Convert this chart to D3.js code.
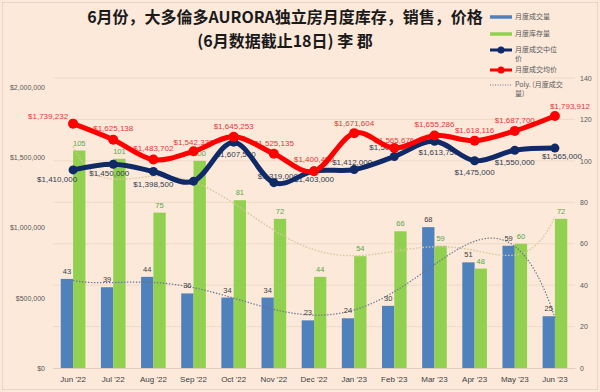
<!DOCTYPE html>
<html><head><meta charset="utf-8">
<script src="https://cdnjs.cloudflare.com/ajax/libs/d3/7.8.5/d3.min.js"></script>
<style>
html,body{margin:0;padding:0;background:#fce9da;}
svg{display:block;}
</style></head>
<body>
<svg id="chart" width="600" height="392"></svg>
<script>
// ---------- data ----------
const categories = ["Jun '22","Jul '22","Aug '22","Sep '22","Oct '22","Nov '22","Dec '22","Jan '23","Feb '23","Mar '23","Apr '23","May '23","Jun '23"];
const salesVolume = [43,39,44,36,34,34,23,24,30,68,51,59,25];          // 月度成交量
const inventory   = [105,101,75,100,81,72,44,54,66,59,48,60,72];       // 月度库存量
const medianPrice = [1410000,1450000,1398500,1330000,1607500,1319000,1403000,1412000,1505000,1613750,1475000,1550000,1565000]; // 月度成交中位价
const medianShowLabel = [true,true,true,false,true,true,true,true,true,true,true,true,true];
const avgPrice    = [1739232,1625138,1483702,1542333,1645253,1525135,1400450,1671604,1565676,1655286,1618116,1687700,1793912]; // 月度成交均价
const leftTicks  = [0,500000,1000000,1500000,2000000];
const rightTicks = [0,20,40,60,80,100,120,140];
const titleLines = ["6月份，大多倫多AURORA独立房月度库存，销售，价格","(6月数据截止18日) 李 郡"];
const legendItems = [
  {lines:["月度成交量"], kind:"bar", color:"#4f81bd"},
  {lines:["月度库存量"], kind:"bar", color:"#92d050"},
  {lines:["月度成交中位","价"], kind:"marker", color:"#0f2a66"},
  {lines:["月度成交均价"], kind:"marker", color:"#ff0000"},
  {lines:["Poly. (月度成交","量)"], kind:"dot", color:"#6b7793"}
];
// label placement offsets (dx, dy from marker)
const avgLabelOffset = [[-25,-7],[0,-11],[0,-11],[0,-9],[0,-11],[0,-11],[0,-12],[0,-10],[0,-8],[0,-11],[0,-10],[0,-11],[15,-10]];
const medLabelOffset = [[-16,9],[-4,9],[0,13],[0,0],[2,12],[4,-6],[0,8],[-2,-7],[-5,-9],[4,11],[0,11],[0,12],[7,8]];

// ---------- setup ----------
const svg = d3.select("#chart");
const W = 600, H = 392;
svg.append("rect").attr("x",0).attr("y",0).attr("width",W).attr("height",H).attr("fill","#fce9da");
svg.append("rect").attr("x",2.5).attr("y",2.5).attr("width",W-5).attr("height",H-5)
  .attr("fill","none").attr("stroke","#e6d4c6").attr("stroke-width",1);

const x = d3.scaleBand().domain(categories).range([53,575]).paddingInner(0).paddingOuter(0);
const xs = d3.scaleBand().domain(["sales","inv"]).range([0,x.bandwidth()]).paddingInner(0).paddingOuter(0.63);
const cx = c => x(c) + x.bandwidth()/2;
const yL = d3.scaleLinear().domain([0,2000000]).range([368,87]);
const yR = d3.scaleLinear().domain([0,140]).range([368,78]);

const fontLatin = "'Liberation Sans', Arial, sans-serif";
const fontCJK = "'Noto Sans CJK SC', 'Noto Sans', sans-serif";

// gridlines (right axis)
svg.append("g").selectAll("line").data(rightTicks.slice(1)).join("line")
  .attr("x1",53).attr("x2",575).attr("y1",d=>yR(d)).attr("y2",d=>yR(d))
  .attr("stroke","#f1d9c7").attr("stroke-width",1);

// axes
const gL = svg.append("g").attr("transform","translate(53,0)")
  .call(d3.axisLeft(yL).tickValues(leftTicks).tickSize(0).tickPadding(8)
    .tickFormat(d => "$" + d3.format(",")(d)));
gL.select(".domain").remove();
gL.selectAll("text").attr("font-family",fontLatin).attr("font-size","7px").attr("fill","#595959");

const gR = svg.append("g").attr("transform","translate(575,0)")
  .call(d3.axisRight(yR).tickValues(rightTicks).tickSize(0).tickPadding(5));
gR.select(".domain").remove();
gR.selectAll("text").attr("font-family",fontLatin).attr("font-size","7px").attr("fill","#595959");

const gX = svg.append("g").attr("transform","translate(0,368)")
  .call(d3.axisBottom(x).tickSize(0).tickPadding(8));
gX.select(".domain").attr("stroke","#e2cdbd");
gX.selectAll("text").attr("font-family",fontLatin).attr("font-size","8px").attr("fill","#404040");

// bars
svg.append("g").selectAll("rect").data(categories).join("rect")
  .attr("x",(c)=>x(c)+xs("sales")).attr("width",xs.bandwidth())
  .attr("y",(c,i)=>yR(salesVolume[i])).attr("height",(c,i)=>yR(0)-yR(salesVolume[i]))
  .attr("fill","#4f81bd");
svg.append("g").selectAll("rect").data(categories).join("rect")
  .attr("x",(c)=>x(c)+xs("inv")).attr("width",xs.bandwidth())
  .attr("y",(c,i)=>yR(inventory[i])).attr("height",(c,i)=>yR(0)-yR(inventory[i]))
  .attr("fill","#92d050");

// polynomial trendlines (least squares fit of the data)
function polyFit(ys, order){
  const n = ys.length;
  const ts = ys.map((_,i)=>((i+1)-(n+1)/2)/((n-1)/2));
  const m = order+1;
  const A = Array.from({length:m},()=>new Array(m+1).fill(0));
  for(let r=0;r<m;r++){
    for(let c=0;c<m;c++){ A[r][c] = d3.sum(ts, t=>Math.pow(t,r+c)); }
    A[r][m] = d3.sum(ts.map((t,i)=>Math.pow(t,r)*ys[i]));
  }
  for(let i=0;i<m;i++){
    let p=i; for(let k=i+1;k<m;k++) if(Math.abs(A[k][i])>Math.abs(A[p][i])) p=k;
    [A[i],A[p]]=[A[p],A[i]];
    for(let k=i+1;k<m;k++){ const f=A[k][i]/A[i][i]; for(let c=i;c<=m;c++) A[k][c]-=f*A[i][c]; }
  }
  const coef=new Array(m).fill(0);
  for(let i=m-1;i>=0;i--){ let s=A[i][m]; for(let c=i+1;c<m;c++) s-=A[i][c]*coef[c]; coef[i]=s/A[i][i]; }
  return u => { const t=(u-(n+1)/2)/((n-1)/2); return coef.reduce((a,cf,k)=>a+cf*Math.pow(t,k),0); };
}
function trendPath(ys, order){
  const f = polyFit(ys, order);
  const n = ys.length;
  const pts = d3.range(1, n+0.001, 0.05).map(u => [cx(categories[0]) + (u-1)*x.step(), yR(f(u))]);
  return d3.line()(pts);
}
svg.append("path").attr("d",trendPath(inventory,6)).attr("fill","none")
  .attr("stroke","#d6c79b").attr("stroke-width",1.3).attr("stroke-dasharray","1.6,1.6");
svg.append("path").attr("d",trendPath(salesVolume,5)).attr("fill","none")
  .attr("stroke","#67748f").attr("stroke-width",1.2).attr("stroke-dasharray","1.4,1.6");

// bar labels
svg.append("g").selectAll("text").data(categories).join("text")
  .attr("x",c=>x(c)+xs("sales")+xs.bandwidth()/2).attr("y",(c,i)=>yR(salesVolume[i])-5)
  .attr("text-anchor","middle").attr("font-family",fontLatin).attr("font-size","7.5px").attr("fill","#404040")
  .text((c,i)=>salesVolume[i]);
svg.append("g").selectAll("text").data(categories).join("text")
  .attr("x",c=>x(c)+xs("inv")+xs.bandwidth()/2).attr("y",(c,i)=>yR(inventory[i])-5)
  .attr("text-anchor","middle").attr("font-family",fontLatin).attr("font-size","7.5px").attr("fill","#55a845")
  .text((c,i)=>inventory[i]);

// price labels
const money = d => "$" + d3.format(",")(d);
svg.append("g").selectAll("text").data(categories.filter((c,i)=>medianShowLabel[i])).join("text")
  .each(function(c){
    const i = categories.indexOf(c);
    d3.select(this).attr("x",cx(c)+medLabelOffset[i][0]).attr("y",yL(medianPrice[i])+medLabelOffset[i][1])
      .attr("dy","0.35em").text(money(medianPrice[i]));
  })
  .attr("text-anchor","middle").attr("font-family",fontLatin).attr("font-size","8px").attr("fill","#303c50");
svg.append("g").selectAll("text").data(categories).join("text")
  .attr("x",(c,i)=>cx(c)+avgLabelOffset[i][0]).attr("y",(c,i)=>yL(avgPrice[i])+avgLabelOffset[i][1])
  .attr("dy","0.35em").attr("text-anchor","middle")
  .attr("font-family",fontLatin).attr("font-size","8px").attr("fill","#dc3a3a")
  .text((c,i)=>money(avgPrice[i]));

// lines
const curve = d3.curveCardinal.tension(0);
const lineMed = d3.line().x((d,i)=>cx(categories[i])).y(d=>yL(d)).curve(curve);
svg.append("path").attr("d",lineMed(medianPrice)).attr("fill","none")
  .attr("stroke","#0f2a66").attr("stroke-width",5).attr("stroke-linecap","round");
svg.append("g").selectAll("circle").data(medianPrice).join("circle")
  .attr("cx",(d,i)=>cx(categories[i])).attr("cy",d=>yL(d)).attr("r",4.5).attr("fill","#0f2a66");
svg.append("path").attr("d",lineMed(avgPrice)).attr("fill","none")
  .attr("stroke","#ff0000").attr("stroke-width",5).attr("stroke-linecap","round");
svg.append("g").selectAll("circle").data(avgPrice).join("circle")
  .attr("cx",(d,i)=>cx(categories[i])).attr("cy",d=>yL(d)).attr("r",5).attr("fill","#ff0000");

// title
svg.append("g").selectAll("text").data(titleLines).join("text")
  .attr("x",285).attr("y",(d,i)=>23+i*24).attr("text-anchor","middle")
  .attr("font-family",fontCJK).attr("font-weight","bold").attr("font-size","16px").attr("fill","#1a1a1a")
  .text(d=>d);

// legend
const lg = svg.append("g");
const legY = [17,34,50,70,85];
legendItems.forEach((it,k)=>{
  const y = legY[k];
  const g = lg.append("g");
  if(it.kind==="bar"){
    g.append("line").attr("x1",490).attr("x2",512).attr("y1",y).attr("y2",y).attr("stroke",it.color).attr("stroke-width",3.5);
  } else if(it.kind==="marker"){
    g.append("line").attr("x1",490).attr("x2",512).attr("y1",y).attr("y2",y).attr("stroke",it.color).attr("stroke-width",3);
    g.append("circle").attr("cx",501).attr("cy",y).attr("r",3.5).attr("fill",it.color);
  } else {
    g.append("line").attr("x1",490).attr("x2",512).attr("y1",y).attr("y2",y).attr("stroke",it.color).attr("stroke-width",1).attr("stroke-dasharray","1,1.5");
  }
  it.lines.forEach((t,j)=>{
    g.append("text").attr("x",515).attr("y",y+j*9).attr("dy","0.35em")
      .attr("font-family",fontCJK).attr("font-size","7px").attr("fill","#595959").text(t);
  });
});
</script>
</body></html>
